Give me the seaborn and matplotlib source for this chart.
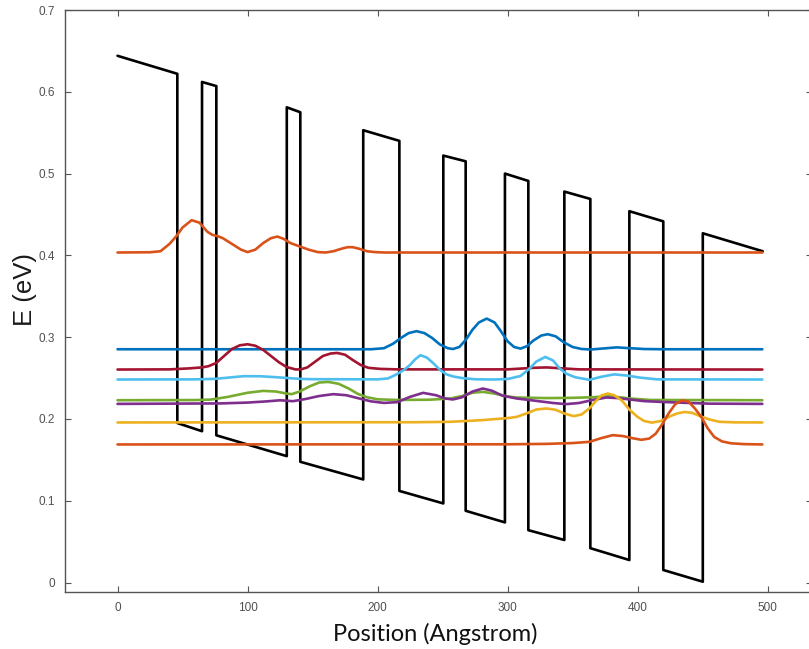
import numpy as np
import pandas as pd
import seaborn as sns
import matplotlib.pyplot as plt

# conduction band profile (vertices, Angstrom / eV)
band_x = [0, 46, 46, 65, 65, 76, 76, 130.2, 130.2, 140.6, 140.6, 189, 189,
          216.8, 216.8, 250.6, 250.6, 267.8, 267.8, 298, 298, 316, 316,
          343.7, 343.7, 363.7, 363.7, 393.7, 393.7, 419.8, 419.8, 450.2,
          450.2, 496.3]
band_y = [0.644, 0.622, 0.195, 0.185, 0.612, 0.607, 0.180, 0.1545, 0.581,
          0.575, 0.1476, 0.126, 0.553, 0.540, 0.112, 0.0967, 0.522, 0.515,
          0.0877, 0.0735, 0.500, 0.491, 0.064, 0.052, 0.478, 0.469, 0.042,
          0.0275, 0.454, 0.4416, 0.0153, 0.001, 0.427, 0.405]

# wavefunctions |psi|^2 shifted by their energy
wf1_x = [0, 25, 33, 40, 45, 50, 57, 63, 69, 73, 77, 81, 88, 95, 100, 106,
         112, 118, 123, 128, 133, 140, 147, 154, 160, 166, 172, 177, 181,
         186, 192, 198, 205, 496]
wf1_y = [0.4035, 0.4038, 0.405, 0.414, 0.423, 0.434, 0.443, 0.440, 0.429,
         0.425, 0.4235, 0.421, 0.414, 0.407, 0.404, 0.407, 0.415, 0.421,
         0.423, 0.420, 0.415, 0.411, 0.407, 0.404, 0.4035, 0.405, 0.408,
         0.410, 0.410, 0.408, 0.405, 0.404, 0.4035, 0.4035]

wf2_x = [0, 195, 205, 212, 218, 224, 230, 236, 242, 248, 254, 258, 263, 268,
         273, 278, 284, 290, 295, 300, 305, 310, 315, 320, 326, 331, 337,
         343, 350, 357, 364, 374, 384, 394, 405, 420, 496]
wf2_y = [0.2852, 0.2852, 0.2865, 0.292, 0.299, 0.305, 0.3073, 0.305, 0.299,
         0.291, 0.2865, 0.2855, 0.288, 0.297, 0.309, 0.318, 0.3227, 0.318,
         0.307, 0.295, 0.288, 0.286, 0.289, 0.296, 0.302, 0.3036, 0.301,
         0.294, 0.288, 0.2855, 0.2849, 0.2862, 0.2875, 0.2865, 0.2855,
         0.2852, 0.2852]

wf3_x = [0, 40, 55, 65, 70, 76, 82, 88, 94, 100, 106, 112, 118, 124, 130,
         137, 141, 146, 152, 158, 164, 169, 175, 181, 187, 193, 202, 215,
         300, 320, 330, 340, 355, 496]
wf3_y = [0.2604, 0.2606, 0.2618, 0.263, 0.2645, 0.2685, 0.277, 0.2855, 0.290,
         0.2913, 0.2895, 0.2845, 0.277, 0.2695, 0.2635, 0.2605, 0.2606,
         0.263, 0.270, 0.277, 0.280, 0.2807, 0.2785, 0.272, 0.266, 0.2625,
         0.2612, 0.2606, 0.2606, 0.2625, 0.263, 0.262, 0.2606, 0.2604]

wf4_x = [0, 60, 75, 85, 97, 110, 125, 140, 150, 200, 208, 214, 220, 225,
         229, 233, 238, 243, 248, 253, 258, 265, 275, 289, 300, 310, 317,
         322, 329, 335, 340, 345, 352, 363, 372, 382, 392, 402, 415, 496]
wf4_y = [0.2482, 0.2484, 0.249, 0.2505, 0.2523, 0.2522, 0.2507, 0.249,
         0.2486, 0.2484, 0.2495, 0.254, 0.2596, 0.266, 0.273, 0.2779, 0.275,
         0.268, 0.260, 0.2545, 0.252, 0.250, 0.2485, 0.2482, 0.2488, 0.2525,
         0.2616, 0.270, 0.2758, 0.2715, 0.262, 0.2555, 0.251, 0.2478, 0.2515,
         0.2545, 0.253, 0.2505, 0.2484, 0.2482]

wf5_x = [0, 60, 72, 85, 100, 112, 122, 130, 134, 140, 148, 155, 162, 170,
         178, 185, 192, 200, 215, 240, 256, 265, 273, 281, 290, 300, 307, 330,
         350, 365, 379, 394, 410, 496]
wf5_y = [0.2229, 0.2231, 0.2237, 0.227, 0.232, 0.2343, 0.2335, 0.231,
         0.2303, 0.2335, 0.240, 0.2445, 0.2453, 0.243, 0.237, 0.2305, 0.2265,
         0.224, 0.2232, 0.2235, 0.225, 0.228, 0.232, 0.2331, 0.231, 0.2275,
         0.2262, 0.2255, 0.2258, 0.2265, 0.2278, 0.225, 0.2232, 0.2229]

wf6_x = [0, 80, 100, 115, 125, 135, 145, 155, 166, 176, 186, 195, 205, 215,
         225, 235, 245, 252, 258, 265, 273, 281, 288, 296, 307, 320, 335, 345,
         355, 365, 376, 385, 394, 405, 417, 435, 455, 496]
wf6_y = [0.2184, 0.219, 0.220, 0.2215, 0.2228, 0.2217, 0.2245, 0.228,
         0.2303, 0.229, 0.225, 0.2215, 0.2196, 0.2205, 0.227, 0.2319, 0.229,
         0.225, 0.2238, 0.2265, 0.2335, 0.2372, 0.2345, 0.2285, 0.225, 0.2225,
         0.2195, 0.2181, 0.2195, 0.223, 0.2262, 0.2255, 0.2238, 0.2218,
         0.2209, 0.2198, 0.2187, 0.2184]

wf7_x = [0, 230, 256, 280, 300, 307, 315, 322, 330, 337, 344, 351, 357, 363,
         368, 372, 377, 382, 388, 394, 400, 405, 411, 418, 424, 430, 436, 442,
         448, 455, 463, 475, 496]
wf7_y = [0.1957, 0.196, 0.1965, 0.1985, 0.201, 0.2025, 0.207, 0.2115, 0.2128,
         0.2112, 0.2065, 0.2034, 0.2055, 0.213, 0.222, 0.2285, 0.2311, 0.229,
         0.2225, 0.211, 0.2025, 0.1975, 0.1955, 0.1975, 0.2025, 0.2065,
         0.2085, 0.2075, 0.2035, 0.1995, 0.1965, 0.1958, 0.1957]

wf8_x = [0, 300, 330, 350, 363, 372, 381, 389, 396, 403, 409, 414, 419, 424,
         429, 434, 439, 444, 449, 454, 459, 465, 472, 482, 496]
wf8_y = [0.1688, 0.169, 0.1695, 0.1705, 0.172, 0.1765, 0.1802, 0.179, 0.1765,
         0.1745, 0.176, 0.182, 0.1935, 0.207, 0.218, 0.2225, 0.2215, 0.213,
         0.2025, 0.1885, 0.178, 0.1725, 0.1702, 0.1692, 0.1688]

levels = [(wf1_x, wf1_y), (wf2_x, wf2_y), (wf3_x, wf3_y), (wf4_x, wf4_y),
          (wf5_x, wf5_y), (wf6_x, wf6_y), (wf7_x, wf7_y), (wf8_x, wf8_y)]
colors = ["#D95319", "#0072BD", "#A2142F", "#4DBEEE",
          "#77AC30", "#7E2F8E", "#EDB120", "#D95319"]

rows = []
for k, (xs, ys) in enumerate(levels):
    for xv, yv in zip(xs, ys):
        rows.append([k, xv, yv])
df = pd.DataFrame(rows, columns=["level", "x", "E"])
band = pd.DataFrame({"x": band_x, "E": band_y})

sns.set_theme(style="white")
plt.rcParams["font.family"] = ["Liberation Sans", "DejaVu Sans"]

fig = plt.figure(figsize=(8.09, 6.49), dpi=100)
ax = fig.add_axes([65 / 809, 57 / 649, 747 / 809, 582 / 649])

sns.lineplot(data=band, x="x", y="E", color="black", lw=1.9,
             estimator=None, sort=False, ax=ax, zorder=2)
sns.lineplot(data=df, x="x", y="E", hue="level", palette=colors, lw=1.9,
             estimator=None, sort=False, legend=False, ax=ax, zorder=3)

ax.set_xlim(-40.4, 534.2)
ax.set_ylim(-0.0116, 0.7)
ax.set_xticks([0, 100, 200, 300, 400, 500])
ax.set_yticks([0, 0.1, 0.2, 0.3, 0.4, 0.5, 0.6, 0.7])
ax.set_yticklabels(["0", "0.1", "0.2", "0.3", "0.4", "0.5", "0.6", "0.7"])

for s in ax.spines.values():
    s.set_color("#555555")
    s.set_linewidth(1.0)
ax.tick_params(direction="in", length=4, width=0.8, color="#555555",
               labelsize=8.5, labelcolor="#505050", top=True, right=True,
               bottom=True, left=True, pad=7)

ax.set_xlabel("Position (Angstrom)", fontsize=17, family=["Lato", "DejaVu Sans"],
              color="#111111")
ax.xaxis.set_label_coords(0.496, -0.072)
ax.xaxis.label.set_va("center")
ax.set_ylabel("E (eV)", fontsize=18.5, color="#1a1a1a")
ax.yaxis.set_label_coords(-0.054, 0.52)
ax.yaxis.label.set_va("center")

fig.savefig("out.png", dpi=100)
